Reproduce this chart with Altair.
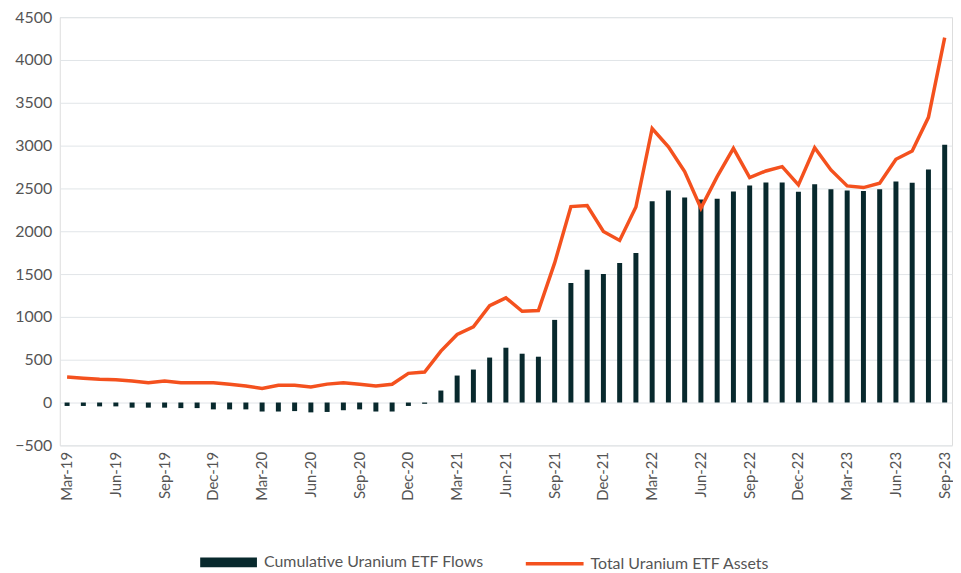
import altair as alt
import pandas as pd

months = (
    ["Mar-19", "Apr-19", "May-19", "Jun-19", "Jul-19", "Aug-19", "Sep-19", "Oct-19", "Nov-19", "Dec-19"]
    + ["Jan-20", "Feb-20", "Mar-20", "Apr-20", "May-20", "Jun-20", "Jul-20", "Aug-20", "Sep-20", "Oct-20", "Nov-20", "Dec-20"]
    + ["Jan-21", "Feb-21", "Mar-21", "Apr-21", "May-21", "Jun-21", "Jul-21", "Aug-21", "Sep-21", "Oct-21", "Nov-21", "Dec-21"]
    + ["Jan-22", "Feb-22", "Mar-22", "Apr-22", "May-22", "Jun-22", "Jul-22", "Aug-22", "Sep-22", "Oct-22", "Nov-22", "Dec-22"]
    + ["Jan-23", "Feb-23", "Mar-23", "Apr-23", "May-23", "Jun-23", "Jul-23", "Aug-23", "Sep-23"]
)

flows = (
    [-40, -40, -45, -45, -60, -60, -60, -65, -65, -80]
    + [-80, -80, -105, -105, -100, -115, -110, -90, -80, -105, -105, -40]
    + [-15, 140, 315, 385, 525, 640, 570, 535, 965, 1395, 1550, 1500]
    + [1630, 1745, 2350, 2475, 2395, 2370, 2380, 2465, 2535, 2570, 2570, 2460]
    + [2550, 2490, 2475, 2470, 2490, 2580, 2565, 2720, 3010]
)

assets = (
    [297, 283, 271, 265, 252, 232, 252, 232, 232, 232]
    + [213, 194, 163, 202, 202, 182, 215, 232, 213, 194, 213, 341]
    + [357, 600, 795, 884, 1132, 1222, 1066, 1074, 1630, 2288, 2300, 1998]
    + [1893, 2283, 3200, 2987, 2696, 2270, 2638, 2968, 2627, 2704, 2754, 2541]
    + [2975, 2716, 2529, 2510, 2560, 2840, 2937, 3330, 4260]
)

tick_labels = months[::3]
y_ticks = list(range(-500, 4501, 500))

flows_name = "Cumulative Uranium ETF Flows"
assets_name = "Total Uranium ETF Assets"

df = pd.DataFrame({"month": months, "flows": flows, "assets": assets})
df["s_flows"] = flows_name
df["s_assets"] = assets_name

FONT = "Lato"
LABEL_COLOR = "#555555"

x_enc = alt.X(
    "month:O",
    sort=None,
    scale=alt.Scale(paddingInner=0.7, paddingOuter=0.3),
    axis=alt.Axis(
        values=tick_labels,
        labelAngle=-90,
        title=None,
        ticks=False,
        domain=False,
        labelFontSize=15,
        labelColor=LABEL_COLOR,
        labelFont=FONT,
        labelPadding=6,
    ),
)

y_scale = alt.Scale(domain=[-500, 4500], nice=False, zero=False)

bars = alt.Chart(df).mark_bar(width=5).encode(
    x=x_enc,
    y=alt.Y(
        "flows:Q",
        scale=y_scale,
        axis=alt.Axis(
            values=y_ticks,
            format="d",
            title=None,
            ticks=False,
            domain=False,
            grid=True,
            gridColor="#e1e5e8",
            gridWidth=1,
            labelFontSize=16,
            labelColor=LABEL_COLOR,
            labelFont=FONT,
            labelPadding=8,
        ),
    ),
    fill=alt.Fill(
        "s_flows:N",
        scale=alt.Scale(domain=[flows_name], range=["#08292d"]),
        legend=alt.Legend(
            title=None,
            orient="none",
            legendX=141,
            legendY=519,
            symbolType="M-1,-0.175H1V0.175H-1Z",
            symbolSize=3249,
            symbolStrokeWidth=0,
            labelFontSize=16,
            labelLimit=0,
            labelColor=LABEL_COLOR,
            labelFont=FONT,
            labelOffset=7,
        ),
    ),
)

line = alt.Chart(df).mark_line(strokeWidth=3.5).encode(
    x=x_enc,
    y=alt.Y("assets:Q", scale=y_scale),
    stroke=alt.Stroke(
        "s_assets:N",
        scale=alt.Scale(domain=[assets_name], range=["#f4511e"]),
        legend=alt.Legend(
            title=None,
            orient="none",
            legendX=466,
            legendY=518,
            symbolType="stroke",
            symbolSize=3364,
            symbolStrokeWidth=3.5,
            labelFontSize=16,
            labelLimit=0,
            labelColor=LABEL_COLOR,
            labelFont=FONT,
            labelOffset=5,
        ),
    ),
)

chart = (
    alt.layer(bars, line)
    .properties(width=896, height=430, padding={"left": 6, "top": 0, "right": 0, "bottom": 0})
    .configure_view(fill="#f0f3f5", stroke=None)
    .configure(background="white")
)

chart.save("out.html", embed_options={"renderer": "svg", "actions": False})
